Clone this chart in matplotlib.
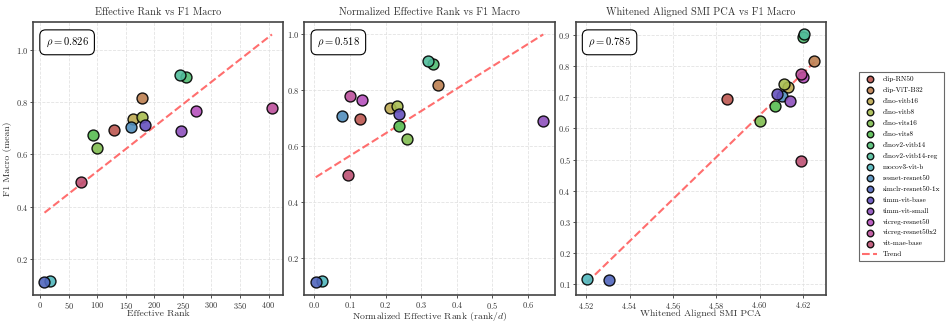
import matplotlib
matplotlib.use("Agg")
import matplotlib.pyplot as plt
import numpy as np
import seaborn as sns

plt.rcParams['font.family'] = 'serif'
plt.rcParams['font.serif'] = ['cmr10', 'DejaVu Serif']
plt.rcParams['mathtext.fontset'] = 'cm'
plt.rcParams['axes.formatter.use_mathtext'] = True
plt.rcParams['axes.unicode_minus'] = False

models = ['clip-RN50', 'clip-ViT-B32', 'dino-vitb16', 'dino-vitb8', 'dino-vits16',
          'dino-vits8', 'dinov2-vitb14', 'dinov2-vitb14-reg', 'mocov3-vit-b',
          'resnet-resnet50', 'simclr-resnet50-1x', 'timm-vit-base', 'timm-vit-small',
          'vicreg-resnet50', 'vicreg-resnet50x2', 'vit-mae-base']

f1_macro = [0.694, 0.816, 0.734, 0.742, 0.623, 0.672, 0.894, 0.903, 0.115,
            0.705, 0.111, 0.712, 0.690, 0.765, 0.776, 0.495]

eff_rank = [130, 178, 163, 178, 100, 92, 255, 245, 16.4,
            158.5, 7.6, 183, 247, 273, 406, 72]

norm_eff_rank = [0.127, 0.348, 0.212, 0.232, 0.261, 0.237, 0.333, 0.319, 0.021,
                 0.077, 0.004, 0.239, 0.643, 0.134, 0.100, 0.094]

whitened_smi = [4.5851, 4.6253, 4.6133, 4.6112, 4.6001, 4.6071, 4.6200, 4.6203, 4.5203,
                4.6101, 4.5304, 4.6081, 4.6138, 4.6200, 4.6192, 4.6192]

rho_values = [0.826, 0.518, 0.785]
titles = ['Effective Rank vs F1 Macro', 'Normalized Effective Rank vs F1 Macro',
          'Whitened Aligned SMI PCA vs F1 Macro']
xlabels = ['Effective Rank', 'Normalized Effective Rank (rank/$d$)', 'Whitened Aligned SMI PCA']

colors = sns.hls_palette(len(models), l=0.53, s=0.45)

fig, axes = plt.subplots(1, 3, figsize=(9.46, 3.24), dpi=100)
fig.subplots_adjust(left=0.035, right=0.873, bottom=0.09, top=0.932, wspace=0.084)

for ax, xs, title, xlabel, rho in zip(axes, [eff_rank, norm_eff_rank, whitened_smi],
                                      titles, xlabels, rho_values):
    xs = np.array(xs)
    ys = np.array(f1_macro)
    for i, m in enumerate(models):
        ax.scatter(xs[i], ys[i], s=62, color=colors[i], edgecolor='black',
                   linewidth=1.0, alpha=0.9, zorder=3, label=m)
    # linear fit
    k, b = np.polyfit(xs, ys, 1)
    xx = np.linspace(xs.min(), xs.max(), 100)
    ax.plot(xx, k * xx + b, '--', color='#ff5555', alpha=0.85, linewidth=1.5,
            zorder=2, label='Trend')
    ax.set_title(title, fontsize=7.4, color='#333333', pad=5)
    ax.set_xlabel(xlabel, fontsize=7, color='#333333', labelpad=-0.5)
    ax.grid(True, linestyle='--', linewidth=0.6, color='#e0e0e0', alpha=0.9)
    ax.tick_params(labelsize=6, colors='#333333', length=2, width=0.6, pad=1.5)
    for sp in ax.spines.values():
        sp.set_linewidth(1.2)
        sp.set_color('#444444')
    ax.text(0.05, 0.95, r'$\rho = %.3f$' % rho, transform=ax.transAxes,
            fontsize=7.6, va='top', ha='left',
            bbox=dict(boxstyle='round,pad=0.55', facecolor='white', edgecolor='black',
                      linewidth=0.8))

axes[0].set_ylabel('F1 Macro (mean)', fontsize=7, color='#333333', labelpad=3)
axes[2].set_xticks([4.52, 4.54, 4.56, 4.58, 4.60, 4.62])

handles, labels = axes[0].get_legend_handles_labels()
leg = fig.legend(handles, labels, loc='upper left', bbox_to_anchor=(0.904, 0.788),
                 fontsize=5.2, frameon=True, fancybox=False, edgecolor='#444444',
                 labelspacing=0.68, handlelength=2.0, borderpad=0.5, markerscale=0.6)
leg.get_frame().set_linewidth(0.8)

fig.savefig('out.png', dpi=100)
